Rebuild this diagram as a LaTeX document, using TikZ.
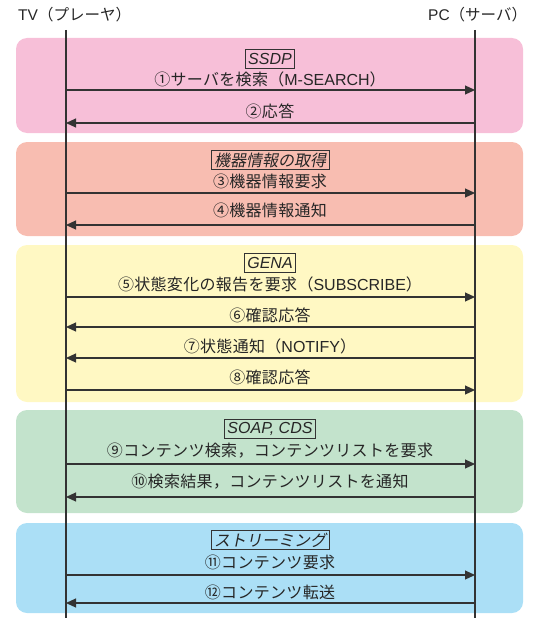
\documentclass[tikz,border=0pt]{standalone}
\usepackage{fontspec}
\setmainfont{Noto Sans CJK JP}
\newfontfamily\jplab{Noto Sans CJK JP}[LetterSpace=2]
\newfontfamily\jphead{Noto Sans CJK JP}
\newfontfamily\jpit{Noto Sans CJK JP}[FakeSlant=0.2]
\newfontfamily\lsans{Liberation Sans}
\newcommand\lat[1]{{\lsans #1}}
\newcommand\latit[1]{{\lsans\itshape #1}}
\usetikzlibrary{arrows.meta}
\definecolor{linec}{HTML}{333333}
\definecolor{cpink}{HTML}{F7BFD8}
\definecolor{csalmon}{HTML}{F8BDB1}
\definecolor{cyellow}{HTML}{FFF8C3}
\definecolor{cgreen}{HTML}{C3E3CC}
\definecolor{cblue}{HTML}{ABDFF6}
\tikzset{
  phase/.style={rounded corners=11pt},
  lifeline/.style={draw=linec, line width=1.1pt},
  msg/.style={draw=linec, line width=1.1pt, -{Triangle[length=10pt,width=9pt]}},
  lab/.style={font=\jplab\fontsize{16}{18}\selectfont, inner sep=0pt, text=black!85},
  head/.style={font=\jphead\fontsize{15.5}{18}\selectfont, inner sep=0pt, anchor=west, text=black!85},
  ttl/.style={draw=linec, line width=0.7pt, font=\jpit\fontsize{16}{18}\selectfont, inner xsep=3pt, inner ysep=0pt, minimum height=19pt, text=black!85}
}
\begin{document}
\begin{tikzpicture}[x=1pt,y=-1pt]
\useasboundingbox (0,0) rectangle (549,618);
% phase backgrounds
\fill[phase, cpink]   (16,38)  rectangle (523,133);
\fill[phase, csalmon] (16,142) rectangle (523,236);
\fill[phase, cyellow] (16,245) rectangle (523,402);
\fill[phase, cgreen]  (16,410) rectangle (523,513);
\fill[phase, cblue]   (16,523) rectangle (523,613);
% headers
\node[head] (tvh) at (18,15) {\lat{TV}（プレーヤ）};
\node[head] (pch) at (428,15) {\lat{PC}（サーバ）};
% lifelines
\coordinate (tvtop) at (66,30);
\coordinate (tvbot) at (66,618);
\coordinate (pctop) at (475,30);
\coordinate (pcbot) at (475,618);
\draw[lifeline] (tvtop) -- (tvbot);
\draw[lifeline] (pctop) -- (pcbot);
% message coordinates
\foreach \n/\y in {1/90,2/123,3/193,4/225,5/297,6/327,7/358,8/390,9/464,10/497,11/575,12/603}{
  \coordinate (tv\n) at (66,\y);
  \coordinate (pc\n) at (475,\y);
}
% titles
\node[ttl] (t1) at (270,59) {\latit{SSDP}};
\node[ttl] (t2) at (270,160) {機器情報の取得};
\node[ttl] (t3) at (270,263) {\latit{GENA}};
\node[ttl] (t4) at (270,429) {\latit{SOAP, CDS}};
\node[ttl] (t5) at (270,540) {ストリーミング};
% labels
\node[lab] (l1) at (270,79) {①サーバを検索（\lat{M-SEARCH}）};
\node[lab] (l2) at (270,111) {②応答};
\node[lab] (l3) at (270,181) {③機器情報要求};
\node[lab] (l4) at (270,210) {④機器情報通知};
\node[lab] (l5) at (270,284) {⑤状態変化の報告を要求（\lat{SUBSCRIBE}）};
\node[lab] (l6) at (270,315) {⑥確認応答};
\node[lab] (l7) at (270,346) {⑦状態通知（\lat{NOTIFY}）};
\node[lab] (l8) at (270,377) {⑧確認応答};
\node[lab] (l9) at (270,451) {⑨コンテンツ検索，コンテンツリストを要求};
\node[lab] (l10) at (270,482) {⑩検索結果，コンテンツリストを通知};
\node[lab] (l11) at (270,562) {⑪コンテンツ要求};
\node[lab] (l12) at (270,592) {⑫コンテンツ転送};
% messages
\draw[msg] (tv1) -- (pc1);
\draw[msg] (pc2) -- (tv2);
\draw[msg] (tv3) -- (pc3);
\draw[msg] (pc4) -- (tv4);
\draw[msg] (tv5) -- (pc5);
\draw[msg] (pc6) -- (tv6);
\draw[msg] (pc7) -- (tv7);
\draw[msg] (tv8) -- (pc8);
\draw[msg] (tv9) -- (pc9);
\draw[msg] (pc10) -- (tv10);
\draw[msg] (tv11) -- (pc11);
\draw[msg] (pc12) -- (tv12);
\end{tikzpicture}
\end{document}
